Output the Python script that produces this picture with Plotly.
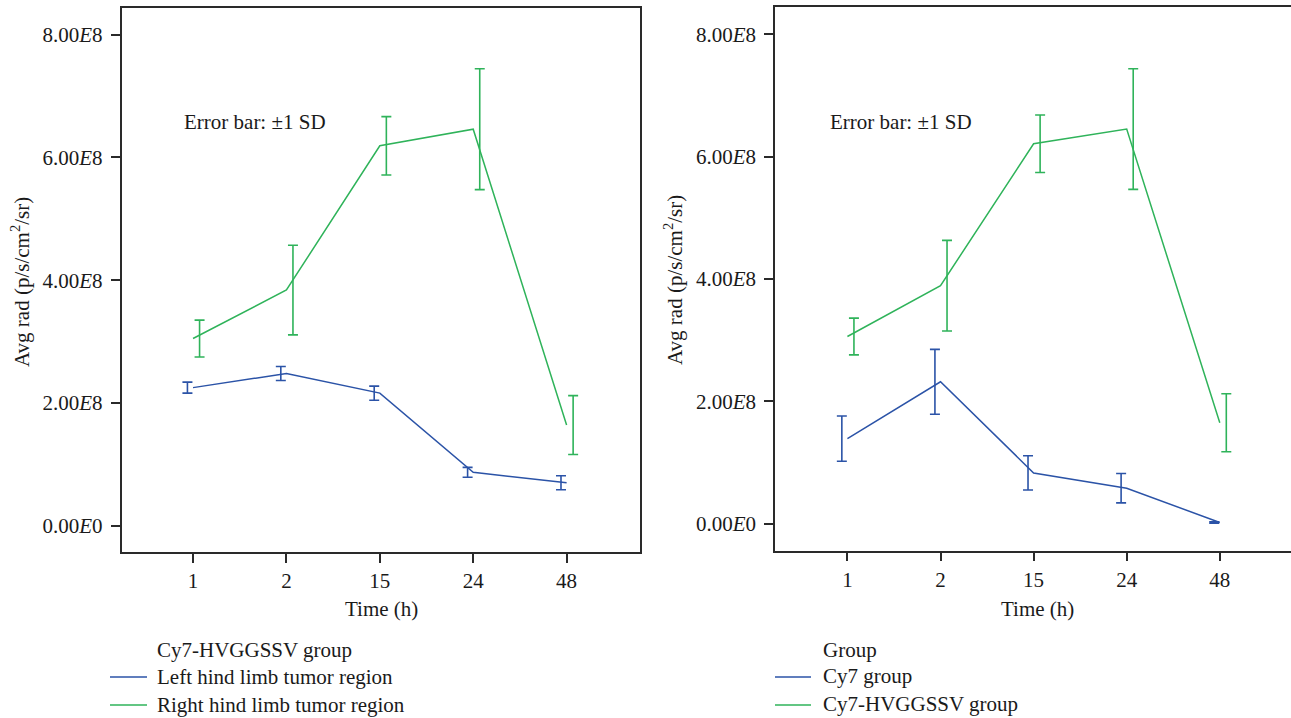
import plotly.graph_objects as go

W, H = 1291, 718

# ---------------- data ----------------
times = ["1", "2", "15", "24", "48"]

# Left panel: Cy7-HVGGSSV group
left_limb_mean = [2.25e8, 2.48e8, 2.16e8, 0.87e8, 0.70e8]
left_limb_sd = [0.09e8, 0.115e8, 0.115e8, 0.08e8, 0.115e8]
right_limb_mean = [3.05e8, 3.84e8, 6.19e8, 6.46e8, 1.64e8]
right_limb_sd = [0.30e8, 0.73e8, 0.475e8, 0.985e8, 0.48e8]

# Right panel: Group comparison
cy7_mean = [1.39e8, 2.32e8, 0.83e8, 0.58e8, 0.02e8]
cy7_sd = [0.37e8, 0.53e8, 0.28e8, 0.24e8, 0.01e8]
hv_mean = [3.06e8, 3.89e8, 6.21e8, 6.45e8, 1.65e8]
hv_sd = [0.30e8, 0.74e8, 0.47e8, 0.985e8, 0.475e8]

ytick_vals = [0, 2e8, 4e8, 6e8, 8e8]
ytick_text = ["0.00<i>E</i>0", "2.00<i>E</i>8", "4.00<i>E</i>8", "6.00<i>E</i>8", "8.00<i>E</i>8"]

BLUE = "#2b53a7"
GREEN = "#2fb35a"
TXT = "#1a1a1a"
AXC = "#2a2a2a"
FONT = "Liberation Serif"
FS = 21

DODGE_A = -0.06
DODGE_B = 0.07


def px(x):
    return x / W


def py(y):
    return 1 - y / H


fig = go.Figure()
xs = list(range(len(times)))


def add_panel(xa, ya, mean_a, sd_a, mean_b, sd_b, name_a, name_b):
    fig.add_trace(go.Scatter(x=xs, y=mean_a, mode="lines", name=name_a,
                             line=dict(color=BLUE, width=1.5), xaxis=xa, yaxis=ya,
                             showlegend=False))
    fig.add_trace(go.Scatter(x=xs, y=mean_b, mode="lines", name=name_b,
                             line=dict(color=GREEN, width=1.5), xaxis=xa, yaxis=ya,
                             showlegend=False))
    fig.add_trace(go.Scatter(x=[i + DODGE_A for i in xs], y=mean_a, mode="markers",
                             marker=dict(size=1, color="rgba(0,0,0,0)"),
                             error_y=dict(type="data", array=sd_a, visible=True,
                                          color=BLUE, thickness=1.6, width=5),
                             xaxis=xa, yaxis=ya, showlegend=False, hoverinfo="skip"))
    fig.add_trace(go.Scatter(x=[i + DODGE_B for i in xs], y=mean_b, mode="markers",
                             marker=dict(size=1, color="rgba(0,0,0,0)"),
                             error_y=dict(type="data", array=sd_b, visible=True,
                                          color=GREEN, thickness=1.6, width=5),
                             xaxis=xa, yaxis=ya, showlegend=False, hoverinfo="skip"))


add_panel("x", "y", left_limb_mean, left_limb_sd, right_limb_mean, right_limb_sd,
          "Left hind limb tumor region", "Right hind limb tumor region")
add_panel("x2", "y2", cy7_mean, cy7_sd, hv_mean, hv_sd,
          "Cy7 group", "Cy7-HVGGSSV group")

axis_common = dict(showgrid=False, zeroline=False, showline=True, linecolor=AXC,
                   linewidth=1.5, ticks="outside", ticklen=9, tickwidth=1.5,
                   tickcolor=AXC, tickfont=dict(family=FONT, size=FS, color=TXT))

fig.update_layout(
    width=W, height=H,
    margin=dict(l=0, r=0, t=0, b=0),
    paper_bgcolor="white", plot_bgcolor="white",
    font=dict(family=FONT, size=FS, color=TXT),
    showlegend=False,
    xaxis=dict(domain=[px(121.5), px(640)], range=[-0.766, 4.786],
               tickvals=xs, ticktext=times, mirror=True, anchor="y", **axis_common),
    yaxis=dict(domain=[py(552.3), py(8.3)], range=[-0.433e8, 8.43e8],
               tickvals=ytick_vals, ticktext=ytick_text, mirror=True, anchor="x",
               ticklabelstandoff=4, **axis_common),
    xaxis2=dict(domain=[px(775), 1.0], range=[-0.778, 4.765],
                tickvals=xs, ticktext=times, mirror=True, anchor="y2", **axis_common),
    yaxis2=dict(domain=[py(550.7), py(7.3)], range=[-0.441e8, 8.44e8],
                tickvals=ytick_vals, ticktext=ytick_text, mirror=False, anchor="x2",
                ticklabelstandoff=4, **axis_common),
)

ann = []


def text(x, y, s, xanchor="center", angle=0):
    ann.append(dict(x=px(x), y=py(y), xref="paper", yref="paper", text=s,
                    showarrow=False, xanchor=xanchor, yanchor="middle",
                    textangle=angle, font=dict(family=FONT, size=FS, color=TXT)))


ytitle = "Avg rad (p/s/cm<sup>2</sup>/sr)"
# left panel texts
text(381, 609, "Time (h)")
text(20, 282, ytitle, angle=-90)
text(182, 122, "Error bar: ±1 SD", xanchor="left")
text(155, 650, "Cy7-HVGGSSV group", xanchor="left")
text(155, 677, "Left hind limb tumor region", xanchor="left")
text(155, 705, "Right hind limb tumor region", xanchor="left")
# right panel texts
text(1037, 609, "Time (h)")
text(673, 280, ytitle, angle=-90)
text(828, 122, "Error bar: ±1 SD", xanchor="left")
text(821, 650, "Group", xanchor="left")
text(821, 676, "Cy7 group", xanchor="left")
text(821, 704, "Cy7-HVGGSSV group", xanchor="left")

shapes = []


def legline(x0, x1, y, color):
    shapes.append(dict(type="line", xref="paper", yref="paper", x0=px(x0), x1=px(x1),
                       y0=py(y), y1=py(y), line=dict(color=color, width=1.5)))


legline(110, 147, 677, BLUE)
legline(110, 147, 705, GREEN)
legline(775, 811, 677, BLUE)
legline(775, 811, 705, GREEN)

fig.update_layout(annotations=ann, shapes=shapes)

fig.write_html(
    "out.html",
    config={"displayModeBar": False},
    post_script="document.body.style.margin='0';document.body.style.overflow='hidden';",
)
